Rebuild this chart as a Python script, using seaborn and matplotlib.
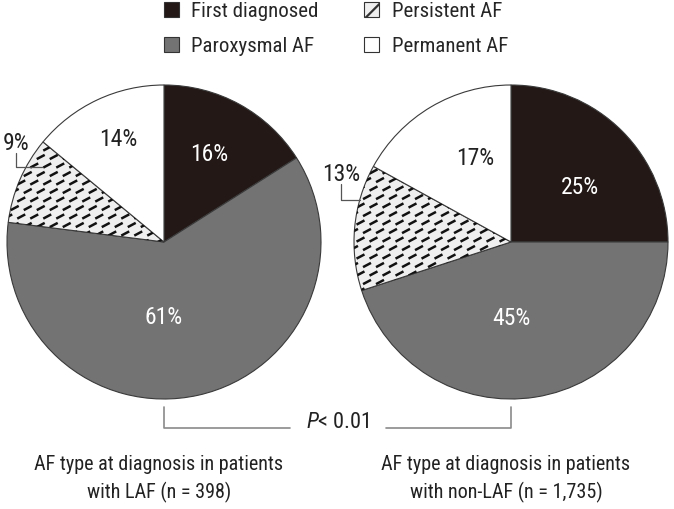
import numpy as np
import matplotlib
matplotlib.use("Agg")
import matplotlib.pyplot as plt
from matplotlib.patches import Patch
from matplotlib.collections import LineCollection
import seaborn as sns

# Data
categories = ["First diagnosed", "Paroxysmal AF", "Persistent AF", "Permanent AF"]
laf_pct = [16, 61, 9, 14]
nonlaf_pct = [25, 45, 13, 17]
captions = ["AF type at diagnosis in patients\nwith LAF (n = 398)",
            "AF type at diagnosis in patients\nwith non-LAF (n = 1,735)"]
p_label = "$P$< 0.01"

sns.set_theme(style="white")
plt.rcParams["font.family"] = ["Roboto Condensed", "DejaVu Sans"]
plt.rcParams["mathtext.fontset"] = "custom"
plt.rcParams["mathtext.it"] = "Roboto Condensed:italic"
plt.rcParams["mathtext.rm"] = "Roboto Condensed"
plt.rcParams["hatch.linewidth"] = 1.6
plt.rcParams["hatch.color"] = "black"

FS = 15
colors = ["#231815", "#737373", "#efefef", "#ffffff"]
text_colors = ["white", "white", "#222222", "#222222"]
edge = "#3a3a3a"

fig = plt.figure(figsize=(6.74, 5.09), dpi=100)
ax = fig.add_axes([0, 0, 1, 1])

R = 157
centers = [(164, 267), (511, 267)]
# label offsets (radius units) for each wedge
label_pos = [
    [(0.29, 0.56), (0.0, -0.48), (-0.94, 0.63), (-0.29, 0.65)],
    [(0.44, 0.35), (0.0, -0.49), (-1.08, 0.43), (-0.23, 0.53)],
]
leaders = [
    [(-0.94, 0.57), (-0.94, 0.48), (-0.78, 0.48)],
    [(-1.08, 0.37), (-1.08, 0.27), (-0.96, 0.27)],
]


def dash_fill(ax, wedge, sx=13, sy=8.5, length=9, angle=28):
    ext = wedge.get_path().get_extents()
    dx = np.cos(np.radians(angle)) * length / 2
    dy = np.sin(np.radians(angle)) * length / 2
    segs = []
    for i, y in enumerate(np.arange(ext.y0 - sy, ext.y1 + sy, sy)):
        off = (i % 2) * sx / 2
        for x in np.arange(ext.x0 - sx + off, ext.x1 + sx, sx):
            segs.append([(x - dx, y - dy), (x + dx, y + dy)])
    lc = LineCollection(segs, colors="#111111", linewidths=1.8, zorder=3)
    ax.add_collection(lc)
    lc.set_clip_path(wedge)


for k, (vals, (cx, cy)) in enumerate(zip([laf_pct, nonlaf_pct], centers)):
    wedges, _ = ax.pie(vals, colors=colors, startangle=90, counterclock=False,
                       center=(cx, cy), radius=R, frame=True,
                       wedgeprops=dict(edgecolor=edge, linewidth=0.8))
    dash_fill(ax, wedges[2])
    for v, (px, py), tc in zip(vals, label_pos[k], text_colors):
        ax.text(cx + px * R, cy + py * R, f"{v}%", ha="center", va="center",
                fontsize=17, color=tc, zorder=5)
    lx, ly = zip(*leaders[k])
    ax.plot([cx + x * R for x in lx], [cy + y * R for y in ly],
            color="#555555", lw=0.9, zorder=5)
    ax.text(cx - 5, 509 - 479, captions[k], ha="center", va="center",
            fontsize=14.5, color="#222222", linespacing=1.45)

ax.set_xlim(0, 674)
ax.set_ylim(0, 509)
ax.set_aspect("equal")
ax.axis("off")

# significance bracket
gray = "#8a8a8a"
x1, x2 = centers[0][0], centers[1][0]
yb_top, yb = 509 - 407, 509 - 428
ax.plot([x1, x1, 290], [yb_top, yb, yb], color=gray, lw=1.2)
ax.plot([386, x2, x2], [yb, yb, yb_top], color=gray, lw=1.2)
ax.text((x1 + x2) / 2, yb + 6, p_label, ha="center", va="center",
        fontsize=16, color="#222222")

handles = [Patch(facecolor=c, edgecolor="#333333", linewidth=0.8, hatch=h)
           for c, h in zip(colors, ["", "", "//", ""])]
ax.legend(handles, categories, ncol=2, loc="upper center",
          bbox_to_anchor=(336 / 674, 1.0), bbox_transform=fig.transFigure,
          frameon=False, fontsize=FS, handlelength=0.72, handleheight=0.72,
          handletextpad=0.6, columnspacing=2.2, labelspacing=0.75,
          borderpad=0.1, borderaxespad=0)

fig.savefig("out.png", dpi=100, facecolor="white")
